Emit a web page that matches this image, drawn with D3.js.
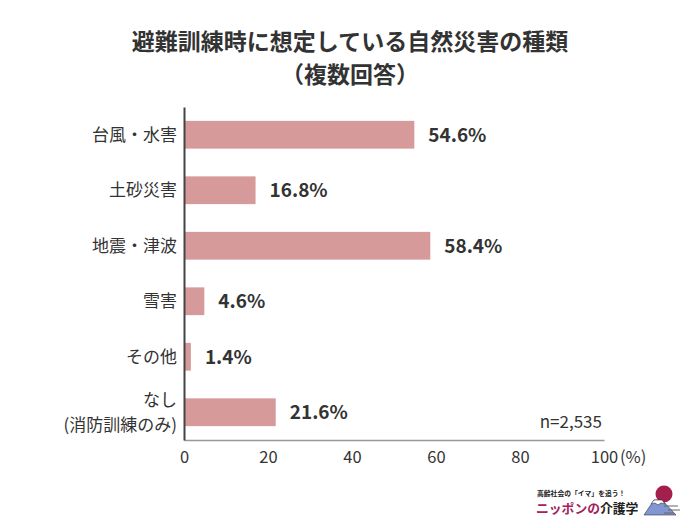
<!DOCTYPE html>
<html>
<head>
<meta charset="utf-8">
<script src="https://cdn.jsdelivr.net/npm/d3@7"></script>
<style>
  body { margin: 0; background: #fff; }
  text { font-family: "Noto Sans CJK JP", "Noto Sans", sans-serif; }
</style>
</head>
<body>
<svg></svg>
<script>
const categories = ['台風・水害', '土砂災害', '地震・津波', '雪害', 'その他', 'なし\n(消防訓練のみ)'];
const values = [54.6, 16.8, 58.4, 4.6, 1.4, 21.6];
const xTicks = [0, 20, 40, 60, 80, 100];

const WIDTH = 700,
      HEIGHT = 528,
      MARGINS = { top: 107, right: 96, bottom: 88, left: 184 };

let svg = d3.select('svg')
   .attr('width', WIDTH)
   .attr('height', HEIGHT);

let x = d3.scaleLinear().domain([0, 100]).range([MARGINS.left, WIDTH - MARGINS.right]);
let y = d3.scaleBand().domain(categories).range([MARGINS.top, HEIGHT - MARGINS.bottom]).paddingInner(0.5).paddingOuter(0.25);

// title
svg.append('text')
   .attr('x', 350).attr('y', 50)
   .attr('text-anchor', 'middle')
   .attr('font-size', 23).attr('font-weight', 'bold').attr('fill', '#333')
   .text('避難訓練時に想定している自然災害の種類');
svg.append('text')
   .attr('x', 350).attr('y', 83)
   .attr('text-anchor', 'middle')
   .attr('font-size', 23).attr('font-weight', 'bold').attr('fill', '#333')
   .text('（複数回答）');

// bars
svg.append('g').selectAll('rect')
   .data(values)
   .join('rect')
   .attr('x', x(0) + 1)
   .attr('y', (d, i) => y(categories[i]))
   .attr('width', d => x(d) - x(0))
   .attr('height', y.bandwidth())
   .attr('fill', '#d69a9a');

// value labels
svg.append('g').selectAll('text')
   .data(values)
   .join('text')
   .attr('x', d => x(d) + 15)
   .attr('y', (d, i) => y(categories[i]) + y.bandwidth() / 2)
   .attr('dy', '0.36em')
   .attr('font-size', 19).attr('font-weight', 'bold').attr('fill', '#333')
   .text(d => d.toFixed(1) + '%');

// x axis
let xAxis = svg.append('g')
   .attr('transform', `translate(0,${HEIGHT - MARGINS.bottom})`)
   .call(d3.axisBottom(x).tickValues(xTicks).tickSize(0).tickPadding(11));
xAxis.select('.domain').attr('stroke', '#999').attr('stroke-width', 1.5);
xAxis.selectAll('text').attr('font-size', 16.5).attr('fill', '#333')
   .style('font-family', '"Noto Sans CJK JP", sans-serif');
svg.append('text')
   .attr('x', x(100) + 16).attr('y', HEIGHT - MARGINS.bottom + 11)
   .attr('dy', '0.71em')
   .attr('font-size', 16.5).attr('fill', '#333')
   .text('(%)');

// y axis
let yAxis = svg.append('g')
   .attr('transform', `translate(${MARGINS.left},0)`)
   .call(d3.axisLeft(y).tickSize(0).tickFormat(''));
yAxis.select('.domain').attr('stroke', '#444').attr('stroke-width', 2);

let labels = svg.append('g').selectAll('text')
   .data(categories)
   .join('text')
   .attr('x', MARGINS.left - 7)
   .attr('y', d => y(d) + y.bandwidth() / 2)
   .attr('text-anchor', 'end')
   .attr('font-size', 17).attr('fill', '#333');
labels.each(function(d) {
   const lines = d.split('\n');
   const t = d3.select(this);
   lines.forEach((l, i) => {
      t.append('tspan')
         .attr('x', MARGINS.left - 7)
         .attr('dy', i === 0 ? (0.36 - (lines.length - 1) * 0.74) + 'em' : '1.48em')
         .text(l);
   });
});

// n
svg.append('text')
   .attr('x', x(100) - 2).attr('y', 428)
   .attr('text-anchor', 'end')
   .attr('font-size', 17).attr('fill', '#333')
   .text('n=2,535');

// logo
let logo = svg.append('g');
logo.append('text')
   .attr('x', 537).attr('y', 496)
   .attr('font-size', 6.8).attr('font-weight', 'bold').attr('fill', '#222')
   .text('高齢社会の「イマ」を追う！');
let lt = logo.append('text')
   .attr('x', 536).attr('y', 513)
   .attr('font-size', 12.8).attr('font-weight', 'bold');
lt.append('tspan').attr('fill', '#a3215c').text('ニッポンの');
lt.append('tspan').attr('fill', '#222').text('介護学');
logo.append('circle').attr('cx', 664).attr('cy', 494).attr('r', 8.5).attr('fill', '#a51f4c');
logo.append('path')
   .attr('d', 'M644,515 L654,500 L662,500 L676,515 Z')
   .attr('fill', '#8196d2').attr('stroke', '#334').attr('stroke-width', 0.6);
logo.append('path')
   .attr('d', 'M654,500 L662,500 L665,504 L661,503 L658,505 L655,503 L651,504 Z')
   .attr('fill', '#fff').attr('stroke', '#334').attr('stroke-width', 0.6);
logo.append('path')
   .attr('d', 'M664,506 h14 M668,510 h12 M664,513 h10')
   .attr('stroke', '#666').attr('stroke-width', 1).attr('fill', 'none');
</script>
</body>
</html>
